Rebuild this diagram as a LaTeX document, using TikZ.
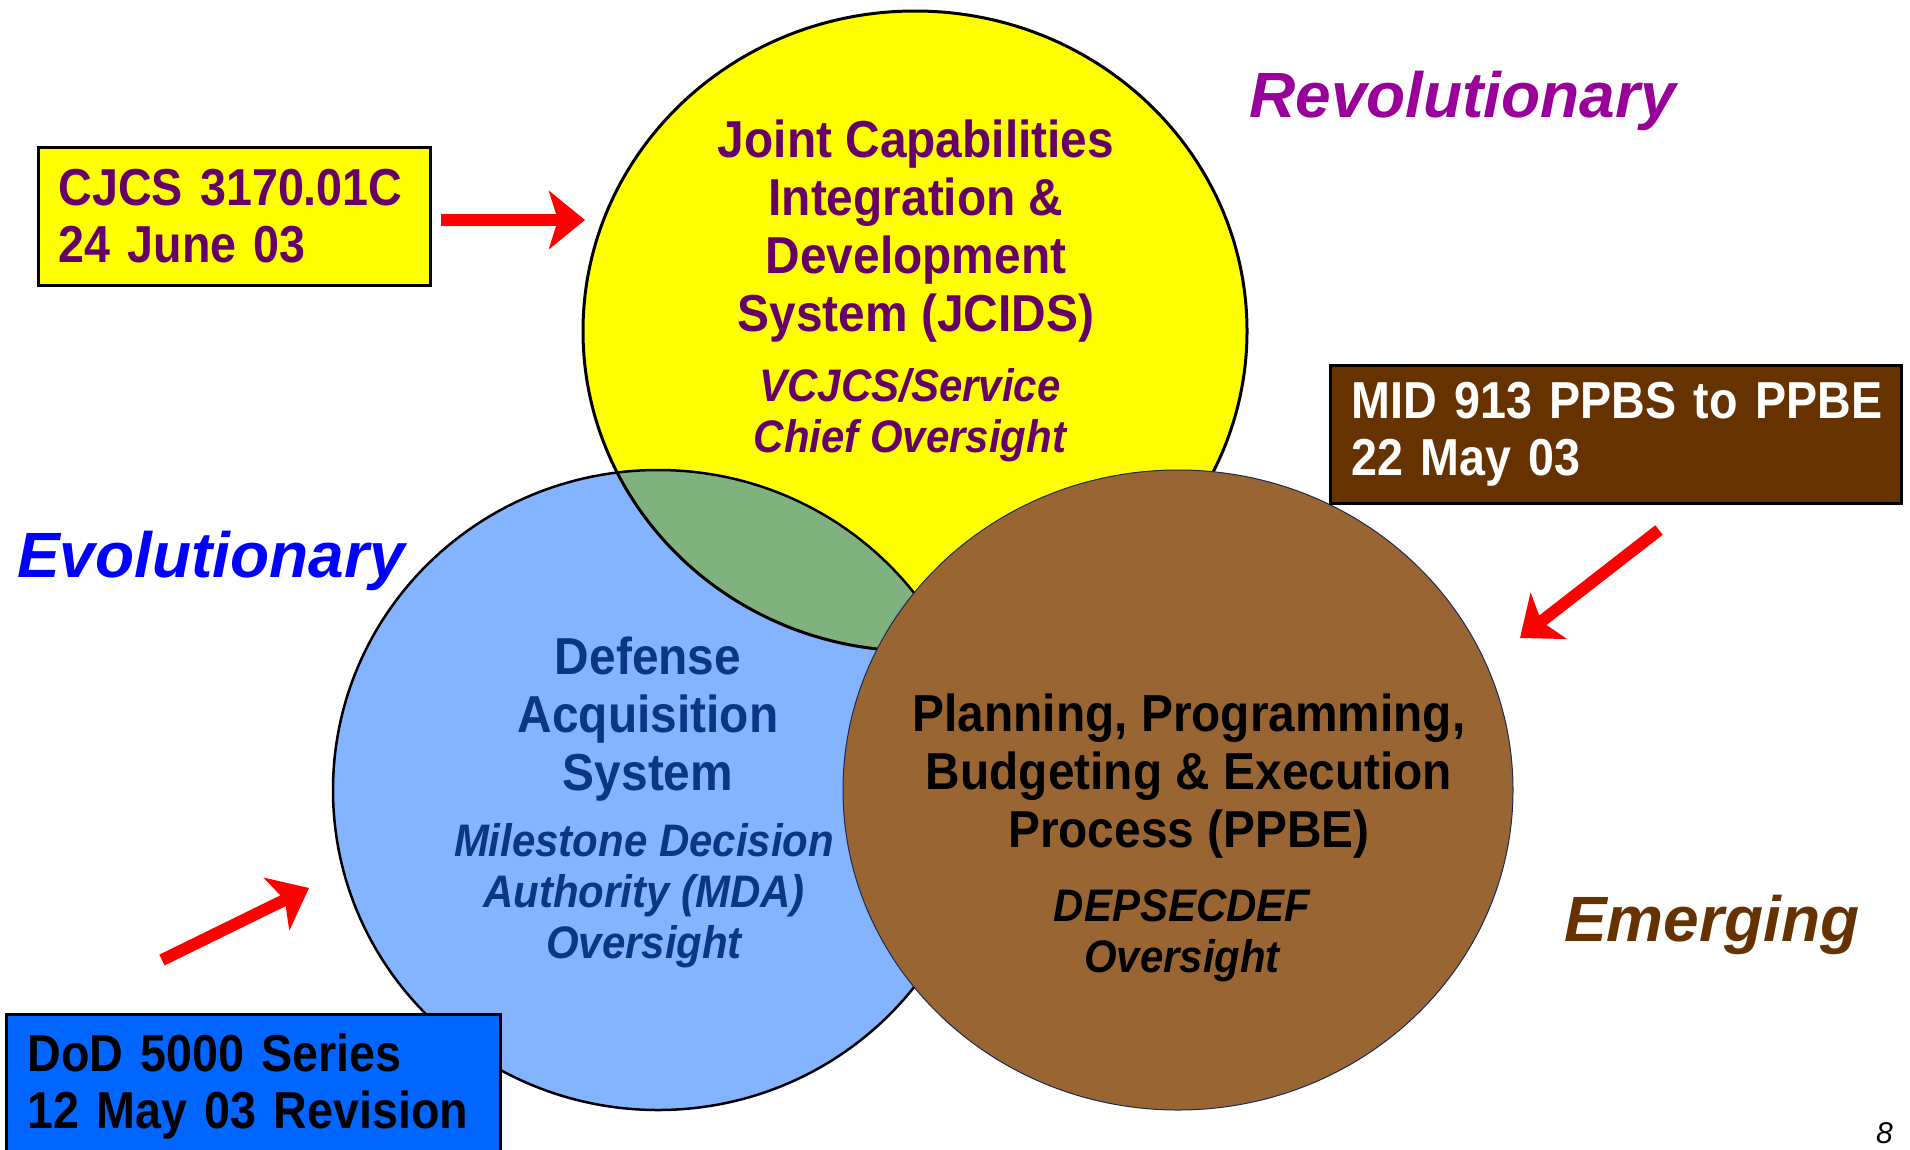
\documentclass[tikz,border=0pt]{standalone}
\usepackage{fontspec}
\setmainfont{Liberation Sans}[FakeStretch=0.92]
\newfontfamily\lblfont{Liberation Sans}
\newfontfamily\boxfont{Liberation Sans}[FakeStretch=0.897]
\usetikzlibrary{arrows.meta,shapes.geometric}
\definecolor{jpurple}{HTML}{660066}
\definecolor{circyellow}{HTML}{FFFF00}
\definecolor{circblue}{HTML}{84B3FF}
\definecolor{circgreen}{HTML}{7FB27F}
\definecolor{circbrown}{HTML}{996633}
\definecolor{boxbrown}{HTML}{663300}
\definecolor{boxblue}{HTML}{0066FF}
\definecolor{navytext}{HTML}{0B3684}
\definecolor{revpurple}{HTML}{990099}
\definecolor{evoblue}{HTML}{0000FF}
\definecolor{emebrown}{HTML}{663300}
\definecolor{arrowred}{HTML}{FF0000}
\definecolor{brownedge}{HTML}{1A2A50}
\begin{document}
\begin{tikzpicture}[x=1pt,y=-1pt,
  circ/.style={ellipse, inner sep=0pt, outer sep=0pt},
  bigtxt/.style={font=\bfseries\fontsize{52}{58}\selectfont, align=center, inner sep=0pt, anchor=north},
  ittxt/.style={font=\bfseries\itshape\fontsize{45.6}{51}\selectfont, align=center, inner sep=0pt, anchor=north},
  boxnode/.style={draw=black, line width=3pt, anchor=north west, inner ysep=0pt, align=left, font=\boxfont\bfseries\fontsize{52}{57}\selectfont},
  redarrow/.style={draw=arrowred, line width=12pt, -{Stealth[length=36pt,width=58pt,inset=9pt]}},
  sidelbl/.style={font=\lblfont\bfseries\itshape\fontsize{64}{64}\selectfont, anchor=base west, inner sep=0pt}
]
\useasboundingbox (0,0) rectangle (1910,1149);
\clip (0,0) rectangle (1910,1149);
\fill[white] (0,0) rectangle (1910,1149);

% circles (fills)
\node[circ, fill=circyellow, minimum width=664pt, minimum height=640pt] (jcids) at (915,331) {};
\node[circ, fill=circblue, minimum width=650pt, minimum height=640pt] (das) at (658,790) {};
\begin{scope}
  \clip (jcids.center) ellipse [x radius=332pt, y radius=320pt];
  \fill[circgreen] (das.center) ellipse [x radius=325pt, y radius=320pt];
\end{scope}
\draw[black, line width=3pt] (jcids.center) ellipse [x radius=332pt, y radius=320pt];
\draw[black, line width=2.5pt] (das.center) ellipse [x radius=325pt, y radius=320pt];
\node[circ, fill=circbrown, draw=brownedge, line width=1pt, minimum width=670pt, minimum height=640pt] (ppbe) at (1178,790) {};

% circle texts
\node[bigtxt, text=jpurple] (jcidsT) at (916,120) {Joint Capabilities\\Integration \&\\Development\\System (JCIDS)};
\node[ittxt, text=jpurple] (jcidsI) at (910,368) {VCJCS/Service\\Chief Oversight};
\node[bigtxt, text=navytext] (dasT) at (648,637) {Defense\\Acquisition\\System};
\node[ittxt, text=navytext] (dasI) at (644,823) {Milestone Decision\\Authority (MDA)\\Oversight};
\node[bigtxt, text=black] (ppbeT) at (1189,694) {Planning, Programming,\\Budgeting \& Execution\\Process (PPBE)};
\node[ittxt, text=black] (ppbeI) at (1182,889) {DEPSECDEF\\Oversight};

% boxes
\node[boxnode, fill=circyellow, text=jpurple, inner xsep=20pt, text width=352pt, minimum height=138pt] (cjcs) at (37,146) {\mbox{CJCS 3170.01C}\\\mbox{24 June 03}};
\node[boxnode, fill=boxbrown, text=white, inner xsep=21pt, text width=529pt, minimum height=138pt] (mid) at (1329,364) {\mbox{MID 913 PPBS to PPBE}\\\mbox{22 May 03}};
\node[boxnode, fill=boxblue, text=black, inner xsep=21pt, text width=452pt, minimum height=144pt] (dod) at (5,1013) {\mbox{DoD 5000 Series}\\\mbox{12 May 03 Revision}};

% arrows
\coordinate (a1s) at (441,220);
\coordinate (a1e) at (585,220);
\coordinate (a2s) at (1659,530);
\coordinate (a2e) at (1520,638);
\coordinate (a3s) at (162,960);
\coordinate (a3e) at (309,888);
\draw[redarrow] (a1s) -- (a1e);
\draw[redarrow] (a2s) -- (a2e);
\draw[redarrow] (a3s) -- (a3e);

% side labels
\node[sidelbl, text=revpurple] (rev) at (1249,117) {Revolutionary};
\node[sidelbl, text=evoblue] (evo) at (17,577) {Evolutionary};
\node[sidelbl, text=emebrown] (eme) at (1564,941) {Emerging};
\node[font=\lblfont\itshape\fontsize{30}{30}\selectfont, anchor=base west, inner sep=0pt] (pagenum) at (1876,1143) {8};
\end{tikzpicture}
\end{document}
